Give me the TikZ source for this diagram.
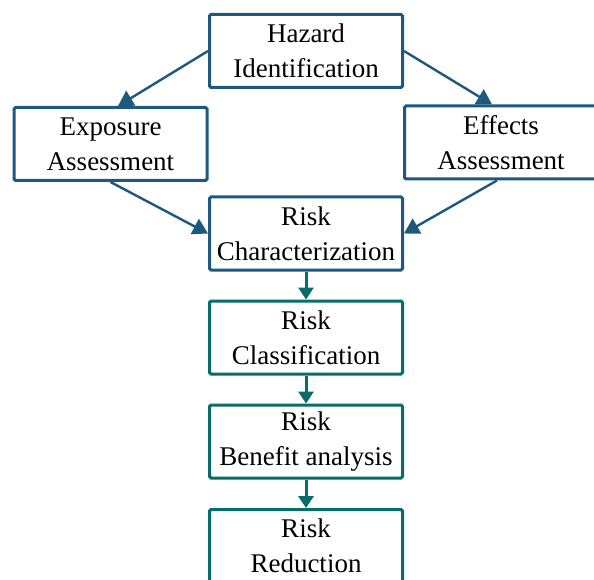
\documentclass[tikz,border=0pt]{standalone}
\usepackage{fontspec}
\setmainfont{Liberation Serif}
\usetikzlibrary{arrows.meta}
\definecolor{boxblue}{RGB}{31,88,126}
\definecolor{boxteal}{RGB}{8,108,104}
\begin{document}
\begin{tikzpicture}[x=1pt,y=-1pt,
  box/.style={draw=#1, line width=3pt, rounded corners=1.5pt, fill=white,
    minimum width=193pt, minimum height=73pt, inner sep=0pt,
    align=center, font=\fontsize{27}{35}\selectfont, text=black},
  blink/.style={draw=boxblue, line width=2.4pt, -{Triangle[length=15pt,width=17pt]}},
  tlink/.style={draw=boxteal, line width=3pt, -{Triangle[length=12pt,width=15pt]}}]
\useasboundingbox (0,0) rectangle (594,580);
\node[box=boxblue] (haz) at (306,51) {Hazard\\Identification};
\node[box=boxblue] (exp) at (110.5,144) {Exposure\\Assessment};
\node[box=boxblue] (eff) at (501,142.5) {Effects\\Assessment};
\node[box=boxblue] (char) at (306,233.5) {Risk\\Characterization};
\node[box=boxteal] (cls) at (306,337.5) {Risk\\Classification};
\node[box=boxteal] (ben) at (306,441.5) {Risk\\Benefit analysis};
\node[box=boxteal] (red) at (306,546) {Risk\\Reduction};
\draw[blink] (haz.west) -- (exp.north -| 118,0);
\draw[blink] (haz.east) -- (eff.north -| 492,0);
\draw[blink] (exp.south) -- (char.west);
\draw[blink] (eff.south -| 497,0) -- (char.east);
\draw[tlink] (char.south) -- (cls.north);
\draw[tlink] (cls.south) -- (ben.north);
\draw[tlink] (ben.south) -- (red.north);
\end{tikzpicture}
\end{document}
